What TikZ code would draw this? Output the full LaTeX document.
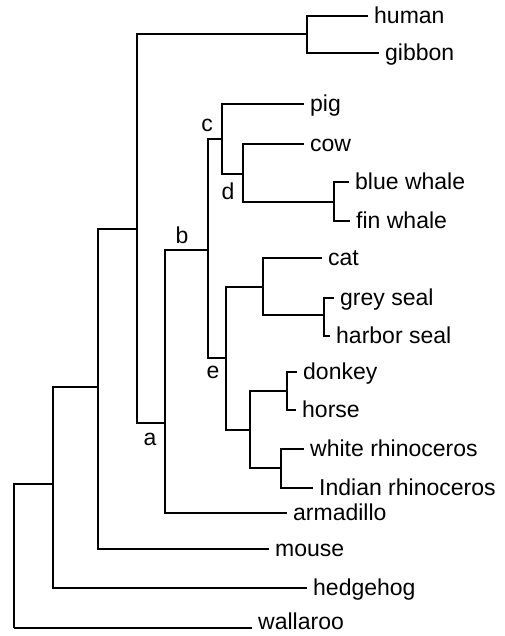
\documentclass[tikz,border=0pt]{standalone}
\usepackage{fontspec}
\setmainfont{Liberation Sans}
\tikzset{
  branch/.style={line width=1.6pt},
  taxon/.style={anchor=west, inner xsep=6pt, inner ysep=0pt, text height=14.5pt, text depth=0pt, font=\fontsize{23}{27}\selectfont},
  nodelbl/.style={anchor=base, inner sep=0pt, font=\fontsize{23}{27}\selectfont},
}
\begin{document}
\begin{tikzpicture}[x=1pt,y=-1pt]
    \useasboundingbox (0,0) rectangle (505,636);
    % inner nodes of the tree
    \coordinate (root) at (14,628);
    \coordinate (n1) at (53,484);
    \coordinate (n2) at (98,387);
    \coordinate (n3) at (137,229);
    \coordinate (prim) at (307,34);
    \coordinate (a) at (165,423);
    \coordinate (b) at (208,250);
    \coordinate (c) at (222,139);
    \coordinate (d) at (243,174);
    \coordinate (whales) at (334,202);
    \coordinate (e) at (226,358);
    \coordinate (carn) at (263,287);
    \coordinate (seals) at (324,315);
    \coordinate (peri) at (250,430);
    \coordinate (equus) at (287,391);
    \coordinate (rhino) at (281,468);
    % leaves
    \node[taxon] (human) at (368,16) {human};
    \node[taxon] (gibbon) at (379,53) {gibbon};
    \node[taxon] (pig) at (304,104) {pig};
    \node[taxon] (cow) at (304,144) {cow};
    \node[taxon] (blue) at (349,182) {blue whale};
    \node[taxon] (fin) at (350,221) {fin whale};
    \node[taxon] (cat) at (322,258) {cat};
    \node[taxon] (grey) at (334,298) {grey seal};
    \node[taxon] (harbor) at (330,336) {harbor seal};
    \node[taxon] (donkey) at (297,372) {donkey};
    \node[taxon] (horse) at (296,410) {horse};
    \node[taxon] (white) at (304,449) {white rhinoceros};
    \node[taxon] (indian) at (313,488) {Indian rhinoceros};
    \node[taxon] (armadillo) at (287,513) {armadillo};
    \node[taxon] (mouse) at (269,549) {mouse};
    \node[taxon] (hedgehog) at (307,588) {hedgehog};
    \node[taxon] (wallaroo) at (252,622) {wallaroo};
    % branches
    \draw[branch] (root) -- (root -| wallaroo.west) (root) |- (n1);
    \draw[branch] (n1) |- (hedgehog.west) (n1) |- (n2);
    \draw[branch] (n2) |- (mouse.west) (n2) |- (n3);
    \draw[branch] (n3) |- (prim) (n3) |- (a);
    \draw[branch] (prim) |- (human.west) (prim) |- (gibbon.west);
    \draw[branch] (a) |- (armadillo.west) (a) |- (b);
    \draw[branch] (b) |- (c) (b) |- (e);
    \draw[branch] (c) |- (pig.west) (c) |- (d);
    \draw[branch, line width=2.8pt] (c |- d) -- (d);
    \draw[branch] (d) |- (cow.west) (d) |- (whales);
    \draw[branch] (whales) |- (blue.west) (whales) |- (fin.west);
    \draw[branch] (e) |- (carn) (e) |- (peri);
    \draw[branch] (carn) |- (cat.west) (carn) |- (seals);
    \draw[branch] (seals) |- (grey.west) (seals) |- (harbor.west);
    \draw[branch] (peri) |- (equus) (peri) |- (rhino);
    \draw[branch] (equus) |- (donkey.west) (equus) |- (horse.west);
    \draw[branch] (rhino) |- (white.west) (rhino) |- (indian.west);
    % node labels
    \node[nodelbl] (la) at (150,445) {a};
    \node[nodelbl] (lb) at (182,243) {b};
    \node[nodelbl] (lc) at (207,132) {c};
    \node[nodelbl] (ld) at (228,200) {d};
    \node[nodelbl] (le) at (213,378) {e};
\end{tikzpicture}
\end{document}
